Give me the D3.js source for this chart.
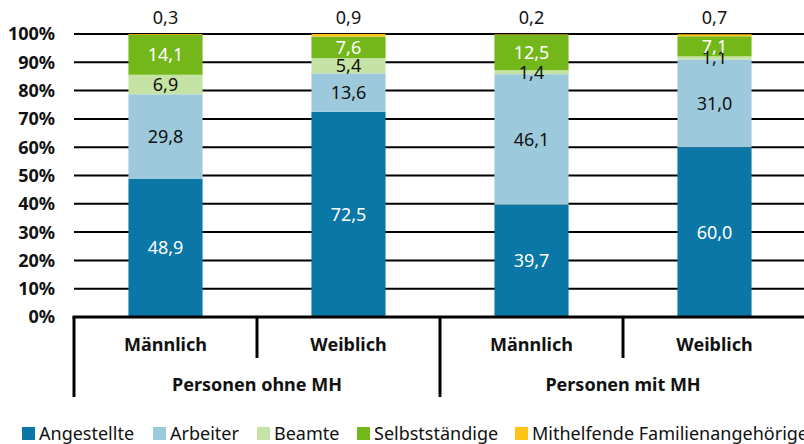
<!DOCTYPE html>
<html>
<head>
<meta charset="utf-8">
<script src="https://cdn.jsdelivr.net/npm/d3@7"></script>
<style>
  body { margin: 0; background: #fff; }
  text { font-family: "Noto Sans", sans-serif; }
</style>
</head>
<body>
<div id="chart"></div>
<script>
var groups = ["Personen ohne MH", "Personen mit MH"];
var categories = ["Männlich", "Weiblich", "Männlich", "Weiblich"];
var series = ["Angestellte", "Arbeiter", "Beamte", "Selbstständige", "Mithelfende Familienangehörige"];
var colors = ["#0b77a6", "#9dc9dc", "#c5e3a4", "#74b71b", "#fdc415"];
var labelColors = ["#fff", "#111", "#111", "#fff", "#111"];

var angestellte = [48.9, 72.5, 39.7, 60.0];
var arbeiter = [29.8, 13.6, 46.1, 31.0];
var beamte = [6.9, 5.4, 1.4, 1.1];
var selbststaendige = [14.1, 7.6, 12.5, 7.1];
var mithelfende = [0.3, 0.9, 0.2, 0.7];

var yTicks = [0, 10, 20, 30, 40, 50, 60, 70, 80, 90, 100];

var width = 804, height = 444;
var margin = {top: 34, right: -2, bottom: 127, left: 74};

var svg = d3.select("#chart").append("svg")
    .attr("width", width)
    .attr("height", height);

var x = d3.scaleBand()
    .domain(d3.range(categories.length))
    .range([margin.left, width - margin.right]);

var y = d3.scaleLinear()
    .domain([0, 100])
    .range([height - margin.bottom, margin.top]);

var barW = x.bandwidth() * 0.405;

// gridlines
svg.append("g")
  .selectAll("line")
  .data(yTicks.slice(1))
  .enter().append("line")
    .attr("x1", margin.left)
    .attr("x2", width)
    .attr("y1", function(d) { return y(d); })
    .attr("y2", function(d) { return y(d); })
    .attr("stroke", "#000")
    .attr("stroke-width", 2);

// y tick labels
svg.append("g")
  .selectAll("text")
  .data(yTicks)
  .enter().append("text")
    .attr("x", 55)
    .attr("y", function(d) { return y(d); })
    .attr("dy", "0.36em")
    .attr("text-anchor", "end")
    .attr("font-size", 18)
    .attr("font-weight", "bold")
    .attr("fill", "#111")
    .text(function(d) { return d + "%"; });

// stacked data
var table = categories.map(function(c, i) {
  return {
    i: i,
    "Angestellte": angestellte[i],
    "Arbeiter": arbeiter[i],
    "Beamte": beamte[i],
    "Selbstständige": selbststaendige[i],
    "Mithelfende Familienangehörige": mithelfende[i]
  };
});

var stack = d3.stack().keys(series)(table);

var fmt = function(v) { return v.toFixed(1).replace(".", ","); };

var layer = svg.append("g")
  .selectAll("g")
  .data(stack)
  .enter().append("g")
    .attr("fill", function(d, k) { return colors[k]; });

layer.selectAll("rect")
  .data(function(d) { return d; })
  .enter().append("rect")
    .attr("x", function(d) { return x(d.data.i) + (x.bandwidth() - barW) / 2; })
    .attr("width", barW)
    .attr("y", function(d) { return y(d[1]); })
    .attr("height", function(d) { return y(d[0]) - y(d[1]); });

// value labels
stack.forEach(function(s, k) {
  svg.append("g")
    .selectAll("text")
    .data(s)
    .enter().append("text")
      .attr("x", function(d) { return x(d.data.i) + x.bandwidth() / 2; })
      .attr("y", function(d) {
        if (k === series.length - 1) return 18;
        return (y(d[0]) + y(d[1])) / 2;
      })
      .attr("dy", "0.36em")
      .attr("text-anchor", "middle")
      .attr("font-size", 18)
      .attr("fill", labelColors[k])
      .text(function(d) { return fmt(d[1] - d[0]); });
});

// x axis line
var y0 = y(0);
svg.append("line")
    .attr("x1", margin.left - 1.5)
    .attr("x2", width)
    .attr("y1", y0)
    .attr("y2", y0)
    .attr("stroke", "#000")
    .attr("stroke-width", 3);

// dividers
var groupBounds = [0, 2, 4];
svg.append("g")
  .selectAll("line")
  .data(groupBounds)
  .enter().append("line")
    .attr("x1", function(d) { return d < 4 ? x(d) : width - margin.right; })
    .attr("x2", function(d) { return d < 4 ? x(d) : width - margin.right; })
    .attr("y1", y0)
    .attr("y2", 397)
    .attr("stroke", "#000")
    .attr("stroke-width", 3);

svg.append("g")
  .selectAll("line")
  .data([1, 3])
  .enter().append("line")
    .attr("x1", function(d) { return x(d); })
    .attr("x2", function(d) { return x(d); })
    .attr("y1", y0)
    .attr("y2", 358)
    .attr("stroke", "#000")
    .attr("stroke-width", 3);

// category labels
svg.append("g")
  .selectAll("text")
  .data(categories)
  .enter().append("text")
    .attr("x", function(d, i) { return x(i) + x.bandwidth() / 2; })
    .attr("y", 345)
    .attr("dy", "0.36em")
    .attr("text-anchor", "middle")
    .attr("font-size", 18)
    .attr("font-weight", "bold")
    .attr("fill", "#111")
    .text(function(d) { return d; });

svg.append("g")
  .selectAll("text")
  .data(groups)
  .enter().append("text")
    .attr("x", function(d, g) { return (x(g * 2) + x(g * 2 + 1) + x.bandwidth()) / 2; })
    .attr("y", 385)
    .attr("dy", "0.36em")
    .attr("text-anchor", "middle")
    .attr("font-size", 18)
    .attr("font-weight", "bold")
    .attr("fill", "#111")
    .text(function(d) { return d; });

// legend
var legendX = [22, 153, 257, 357, 515];
var legend = svg.append("g")
  .selectAll("g")
  .data(series)
  .enter().append("g")
    .attr("transform", function(d, k) { return "translate(" + legendX[k] + ",427)"; });

legend.append("rect")
    .attr("width", 13)
    .attr("height", 13)
    .attr("fill", function(d, k) { return colors[k]; });

legend.append("text")
    .attr("x", 17)
    .attr("y", 6.5)
    .attr("dy", "0.36em")
    .attr("font-size", 18)
    .attr("fill", "#111")
    .text(function(d) { return d; });
</script>
</body>
</html>
